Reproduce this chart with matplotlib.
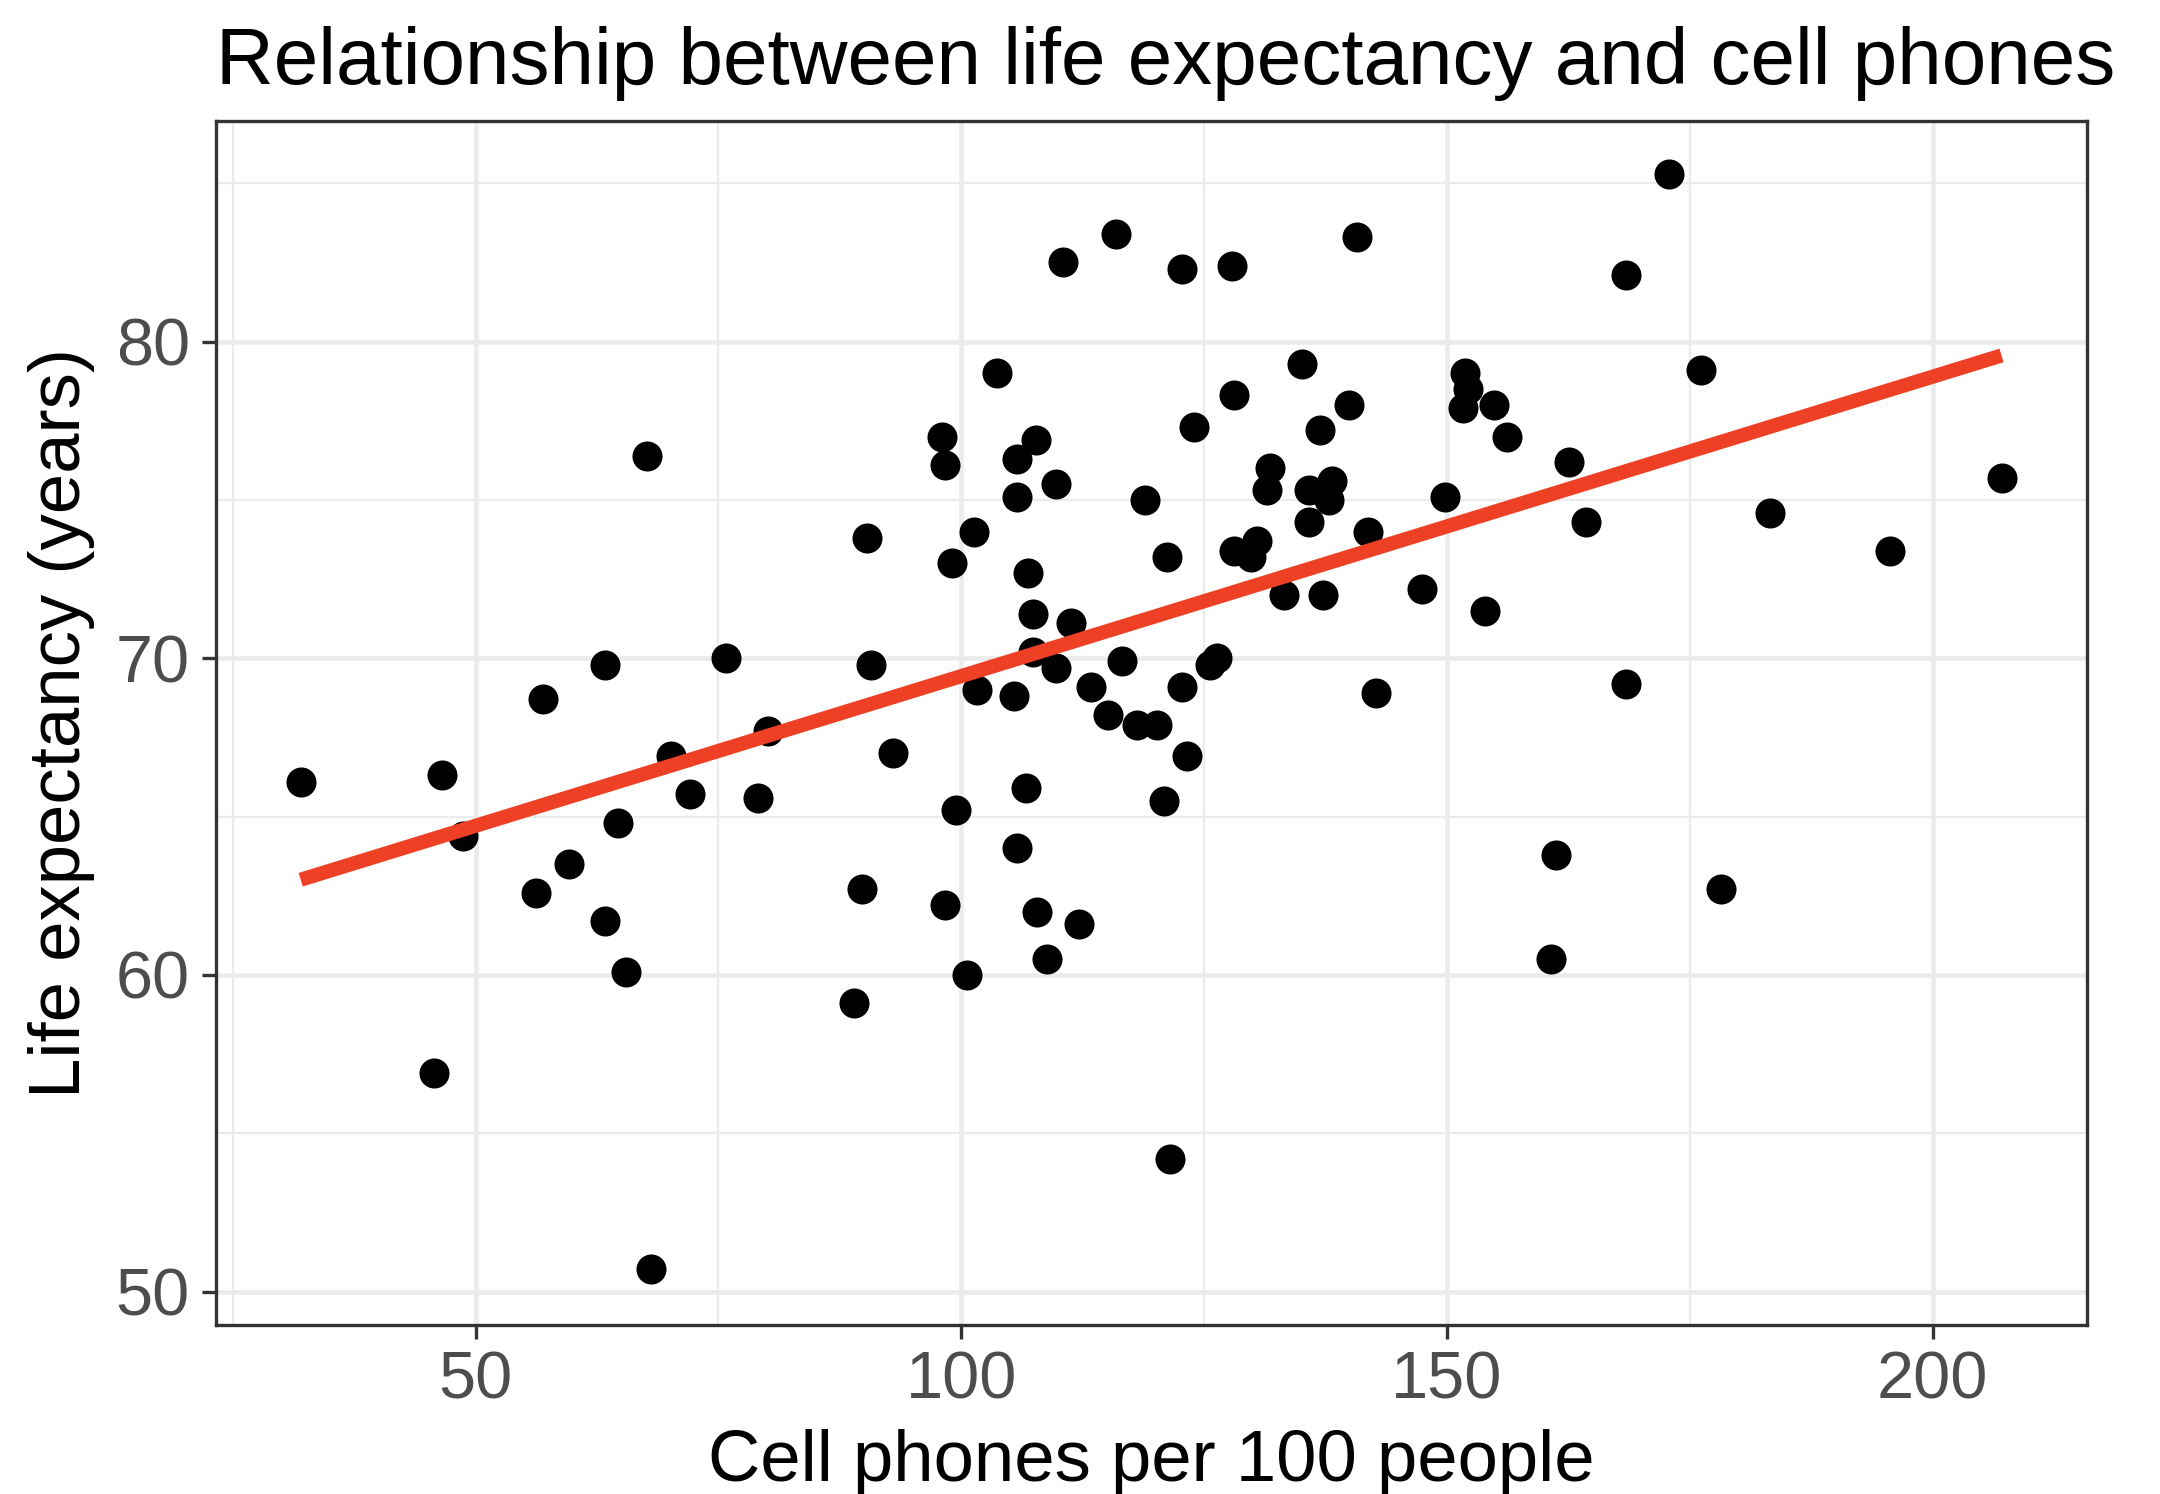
import numpy as np
import matplotlib
matplotlib.use("Agg")
import matplotlib.pyplot as plt

plt.rcParams['font.family'] = ['Liberation Sans', 'DejaVu Sans']

# Cell phones per 100 people
cell_phones = [
    32.0, 45.7, 46.5, 48.7, 56.2, 56.9, 59.6, 63.3, 63.3, 64.7,
    65.5, 67.7, 68.1, 70.1, 72.1, 75.8, 79.1, 80.1, 89.0, 89.8,
    90.3, 90.7, 93.0, 98.0, 98.3, 98.3, 99.1, 99.5, 100.6, 101.3,
    101.6, 103.7, 105.4, 105.7, 105.7, 105.7, 106.9, 106.7, 107.4, 107.4,
    107.7, 107.8, 108.8, 109.8, 109.8, 110.5, 111.3, 112.1, 113.4, 115.1,
    115.9, 116.6, 118.1, 118.9, 120.2, 120.9, 121.2, 121.5, 122.7, 122.7,
    123.2, 124.0, 125.6, 126.3, 127.9, 128.1, 128.1, 129.8, 130.5, 131.5,
    131.8, 133.2, 135.1, 135.8, 135.8, 136.9, 137.2, 137.9, 138.2, 139.9,
    140.7, 141.9, 142.7, 147.4, 149.8, 151.7, 151.9, 152.2, 153.9, 154.9,
    156.2, 160.7, 161.2, 162.6, 164.3, 168.4, 168.4, 172.9, 176.2, 178.2,
    183.3, 195.6, 207.1,
]

# Life expectancy (years)
life_expectancy = [
    66.1, 56.9, 66.3, 64.4, 62.6, 68.7, 63.5, 69.8, 61.7, 64.8,
    60.1, 76.4, 50.7, 66.9, 65.7, 70.0, 65.6, 67.7, 59.1, 62.7,
    73.8, 69.8, 67.0, 77.0, 76.1, 62.2, 73.0, 65.2, 60.0, 74.0,
    69.0, 79.0, 68.8, 64.0, 76.3, 75.1, 72.7, 65.9, 71.4, 70.2,
    76.9, 62.0, 60.5, 75.5, 69.7, 82.5, 71.1, 61.6, 69.1, 68.2,
    83.4, 69.9, 67.9, 75.0, 67.9, 65.5, 73.2, 54.2, 82.3, 69.1,
    66.9, 77.3, 69.8, 70.0, 82.4, 78.3, 73.4, 73.2, 73.7, 75.3,
    76.0, 72.0, 79.3, 74.3, 75.3, 77.2, 72.0, 75.0, 75.6, 78.0,
    83.3, 74.0, 68.9, 72.2, 75.1, 77.9, 79.0, 78.5, 71.5, 78.0,
    77.0, 60.5, 63.8, 76.2, 74.3, 82.1, 69.2, 85.3, 79.1, 62.7,
    74.6, 73.4, 75.7,
]

x_ticks = [50, 100, 150, 200]
y_ticks = [50, 60, 70, 80]

x = np.array(cell_phones)
y = np.array(life_expectancy)
slope, intercept = np.polyfit(x, y, 1)
x_line = np.array([x.min(), x.max()])
y_line = intercept + slope * x_line

fig = plt.figure(figsize=(7.2, 4.98), dpi=300)
ax = fig.add_axes([0.1001, 0.1134, 0.8661, 0.8055])

grid_col = '#EBEBEB'
ax.set_xlim(23.3, 215.9)
ax.set_ylim(48.96, 86.96)
ax.set_xticks(x_ticks)
ax.set_yticks(y_ticks)
ax.set_xticks([25, 75, 125, 175], minor=True)
ax.set_yticks([55, 65, 75, 85], minor=True)
ax.grid(True, which='major', color=grid_col, linewidth=1.1)
ax.grid(True, which='minor', color=grid_col, linewidth=0.55)
ax.set_axisbelow(True)
ax.tick_params(which='minor', length=0)
ax.tick_params(which='major', length=3.3, width=0.8, color='#333333',
               labelsize=16, labelcolor='#4D4D4D', pad=3)
for s in ax.spines.values():
    s.set_color('#333333')
    s.set_linewidth(0.8)

ax.scatter(x, y, s=52, color='black', linewidths=0, zorder=3)
ax.plot(x_line, y_line, color='#EE4024', linewidth=3.4, zorder=4,
        solid_capstyle='butt')

ax.set_xlabel('Cell phones per 100 people', fontsize=17.4, labelpad=4)
ax.set_ylabel('Life expectancy (years)', fontsize=17.4, labelpad=5)
ax.set_title('Relationship between life expectancy and cell phones',
             fontsize=19.2, pad=9, loc='left', x=0.0)

fig.savefig('out.png', dpi=300)
